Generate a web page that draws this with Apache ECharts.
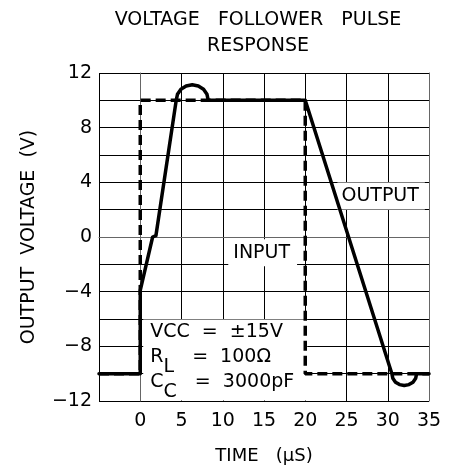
<!DOCTYPE html>
<html>
<head>
<meta charset="utf-8">
<script src="https://cdn.jsdelivr.net/npm/echarts@6/dist/echarts.min.js"></script>
<style>
html,body{margin:0;padding:0;background:#fff;}
#chart{width:461px;height:470px;}
</style>
</head>
<body>
<div id="chart"></div>
<script>
// ---- data ----
const titleLines = ['VOLTAGE   FOLLOWER   PULSE', 'RESPONSE'];
const xAxisName = 'TIME   (\u00b5S)';
const yAxisName = 'OUTPUT  VOLTAGE  (V)';
const xTicks = [0, 5, 10, 15, 20, 25, 30, 35];
const yTicks = [-12, -8, -4, 0, 4, 8, 12];

// Input pulse (dashed)
const inputTime = [-5, 0, 0, 20, 20, 35];
const inputVolt = [-10, -10, 10, 10, -10, -10];

// Output response (solid)
const outputTime = [-5, 0, 0, 1.5, 1.9, 4.36, 4.51, 4.93, 5.56, 6.3, 7.04, 7.67, 8.09, 8.24, 20,
                    30.5, 30.61, 30.94, 31.43, 32.0, 32.57, 33.06, 33.39, 33.5, 35];
const outputVolt = [-10, -10, -3.9, 0, 0.1, 10, 10.44, 10.81, 11.05, 11.14, 11.05, 10.81, 10.44, 10, 10,
                    -10, -10.33, -10.62, -10.8, -10.87, -10.8, -10.62, -10.33, -10, -10];

// Annotations: [time, volt] anchor (left edge, vertical centre)
const outputLabel = {text: 'OUTPUT', at: [23.9, 3.0]};
const inputLabel = {text: 'INPUT', at: [10.67, -1.15]};
const condLabel = {at: [0.36, -9.0]};

// ---- chart ----
const FONT = 'DejaVu Sans';
const chart = echarts.init(document.getElementById('chart'), null, {renderer: 'canvas'});
const pairs = (t, v) => t.map((x, i) => [x, v[i]]);
const minus = v => String(v).replace('-', '\u2212');

const option = {
  animation: false,
  backgroundColor: '#fff',
  graphic: [
    {type: 'text', x: 258, y: 20, style: {text: titleLines[0], font: '19px "' + FONT + '"', fill: '#000', textAlign: 'center', textVerticalAlign: 'middle'}},
    {type: 'text', x: 258, y: 46.5, style: {text: titleLines[1], font: '19px "' + FONT + '"', fill: '#000', textAlign: 'center', textVerticalAlign: 'middle'}}
  ],
  grid: {left: 99, top: 73, width: 330, height: 330, containLabel: false},
  xAxis: {
    type: 'value', min: -5, max: 35, interval: 5,
    name: xAxisName, nameLocation: 'middle', nameGap: 46,
    nameTextStyle: {fontFamily: FONT, fontSize: 18, color: '#000'},
    axisLine: {show: true, lineStyle: {color: '#666', width: 1}},
    axisTick: {show: false},
    axisLabel: {fontFamily: FONT, fontSize: 19, color: '#000', margin: 11,
      formatter: v => xTicks.indexOf(v) >= 0 ? String(v) : ''},
    splitLine: {show: true, lineStyle: {color: '#000', width: 1}}
  },
  yAxis: [{
    type: 'value', min: -12, max: 12, interval: 2,
    name: yAxisName, nameLocation: 'middle', nameGap: 60, nameRotate: 90,
    nameTextStyle: {fontFamily: FONT, fontSize: 19, color: '#000'},
    axisLine: {show: true, lineStyle: {color: '#666', width: 1}},
    axisTick: {show: false},
    axisLabel: {fontFamily: FONT, fontSize: 19, color: '#000', margin: 7,
      formatter: v => yTicks.indexOf(v) >= 0 ? minus(v) : ''},
    splitLine: {show: true, lineStyle: {color: '#000', width: 1}}
  }, {
    type: 'value', min: -12, max: 12, interval: 2, position: 'right',
    axisLine: {show: true, lineStyle: {color: '#666', width: 1}},
    axisTick: {show: false}, axisLabel: {show: false}, splitLine: {show: false}
  }],
  series: [
    {
      name: 'Input', type: 'line', data: pairs(inputTime, inputVolt), symbol: 'none',
      lineStyle: {color: '#000', width: 3.5, type: [10, 5], cap: 'butt'},
      z: 2,
      markPoint: {
        z: 1,
        symbol: 'rect', symbolSize: 0,
        data: [
          {coord: outputLabel.at, label: {show: true, position: 'right', distance: 0, formatter: outputLabel.text,
            fontFamily: FONT, fontSize: 19, color: '#000', backgroundColor: '#fff', padding: [4, 6, 4, 4]}},
          {coord: inputLabel.at, label: {show: true, position: 'right', distance: 0, formatter: inputLabel.text,
            fontFamily: FONT, fontSize: 19, color: '#000', backgroundColor: '#fff', padding: [4, 7, 4, 5]}},
          {coord: condLabel.at, label: {show: true, position: 'right', distance: 0,
            formatter: '{t|VCC  =  \u00b115V}\n{t|R}{s|L}{t|   =  100\u03a9}\n{t|C}{s|C}{t|   =  3000pF}',
            backgroundColor: '#fff', padding: [0, 13, 6, 7], align: 'left',
            rich: {
              t: {fontFamily: FONT, fontSize: 19, color: '#000', lineHeight: 25},
              s: {fontFamily: FONT, fontSize: 19, color: '#000', lineHeight: 25, padding: [20, 0, 0, 0]}
            }}}
        ]
      }
    },
    {
      name: 'Output', type: 'line', data: pairs(outputTime, outputVolt), symbol: 'none',
      lineStyle: {color: '#000', width: 3.5, join: 'round', cap: 'round'},
      z: 3
    }
  ]
};
chart.setOption(option);
</script>
</body>
</html>
